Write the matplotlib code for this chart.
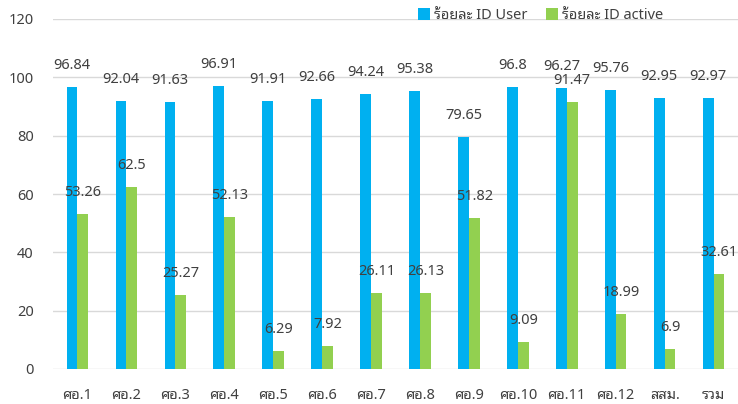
import matplotlib
matplotlib.use("Agg")
import numpy as np
import matplotlib.pyplot as plt

plt.rcParams['font.family'] = ['Noto Sans', 'Noto Sans Thai Looped', 'IBM Plex Sans Thai Looped',
                               'Noto Sans Thai', 'DejaVu Sans']

# ข้อมูล
categories = ["ศอ.1", "ศอ.2", "ศอ.3", "ศอ.4", "ศอ.5", "ศอ.6", "ศอ.7",
              "ศอ.8", "ศอ.9", "ศอ.10", "ศอ.11", "ศอ.12", "สสม.", "รวม"]
id_user = [96.84, 92.04, 91.63, 96.91, 91.91, 92.66, 94.24,
           95.38, 79.65, 96.8, 96.27, 95.76, 92.95, 92.97]
id_active = [53.26, 62.5, 25.27, 52.13, 6.29, 7.92, 26.11,
             26.13, 51.82, 9.09, 91.47, 18.99, 6.9, 32.61]
series_names = ["ร้อยละ ID User", "ร้อยละ ID active"]

blue = "#00b0f0"
green = "#92d050"
text_col = "#404040"

fig = plt.figure(figsize=(7.38, 4.04), dpi=100)
ax = fig.add_axes([53 / 738, 35 / 404, 685 / 738, 350 / 404])

x = np.arange(len(categories))
w = 0.22
ax.bar(x - w / 2, id_user, w, color=blue, label=series_names[0], zorder=2)
ax.bar(x + w / 2, id_active, w, color=green, label=series_names[1], zorder=2)

for xi, v in zip(x, id_user):
    ax.annotate(str(v), (xi - w / 2, v), xytext=(0, 15.5), textcoords="offset points",
                ha="center", va="center", fontsize=10.5, color=text_col, zorder=3)
for xi, v in zip(x, id_active):
    ax.annotate(str(v), (xi + w / 2, v), xytext=(0, 15.5), textcoords="offset points",
                ha="center", va="center", fontsize=10.5, color=text_col, zorder=3)

ax.set_xlim(-0.5, len(categories) - 0.5)
ax.set_ylim(0, 120)
ax.set_yticks(np.arange(0, 121, 20))
ax.set_xticks(x)
ax.set_xticklabels(categories)
ax.tick_params(axis="both", length=0, labelsize=10.5, colors=text_col)
ax.tick_params(axis="x", pad=14)
ax.tick_params(axis="y", pad=14)
ax.grid(axis="y", color="#d9d9d9", linewidth=1, zorder=0)
for s in ax.spines.values():
    s.set_visible(False)

ax.legend(loc="center right", bbox_to_anchor=(0.9, 1.01), ncol=2, frameon=False,
          fontsize=10.5, handlelength=0.8, handleheight=0.8, handletextpad=0.3,
          columnspacing=1.3, labelcolor=text_col, borderaxespad=0)

fig.savefig("out.png", dpi=100)
